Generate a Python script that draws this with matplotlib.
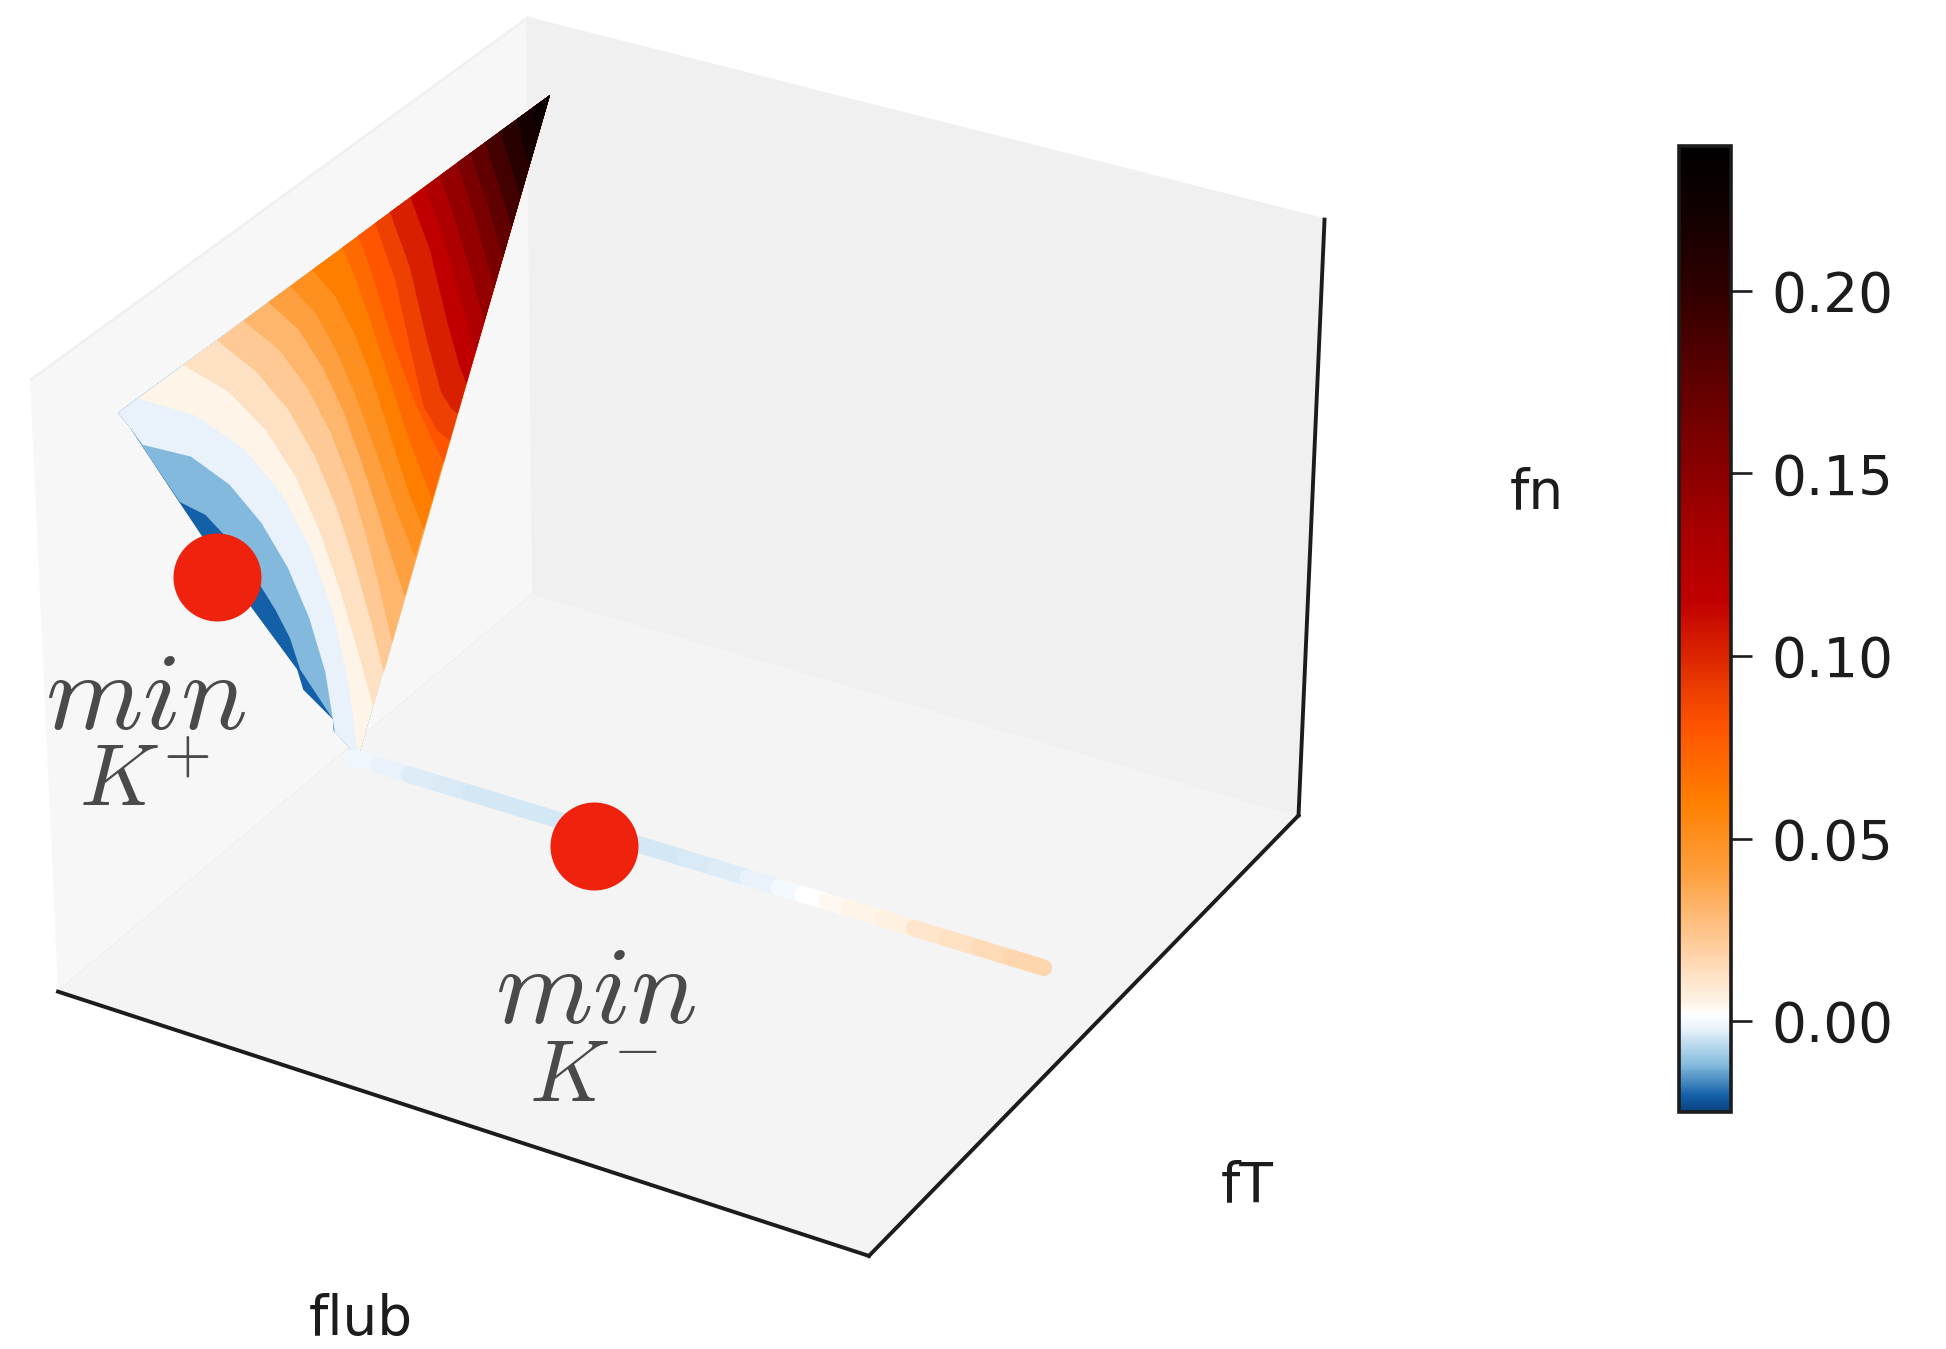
import numpy as np, matplotlib
matplotlib.use('Agg')
import matplotlib.pyplot as plt
from matplotlib.colors import LinearSegmentedColormap, Normalize
from matplotlib.cm import ScalarMappable
from mpl_toolkits.mplot3d.art3d import Poly3DCollection, Line3DCollection

plt.rcParams['mathtext.fontset'] = 'cm'

# ---------- data (fT, fn pairs in axis fractions) ----------
flub_wedge = 0.02
tip = [(1.015, 0.869)]
apex = [(0.579, 0.0)]
left_corner = [(0.128, 0.876), (0.149, 0.840)]
edge_upper_low = [(0.172, 0.793)]
edge_lower = [(0.238, 0.660), (0.274, 0.588), (0.373, 0.395), (0.458, 0.236), (0.469, 0.194), (0.529, 0.101), (0.528, 0.084)]
contour_A = [(0.238, 0.662), (0.286, 0.610), (0.323, 0.551), (0.356, 0.490), (0.388, 0.427), (0.418, 0.364), (0.445, 0.299), (0.464, 0.232)]
contour_B = [(0.172, 0.797), (0.262, 0.721), (0.335, 0.628), (0.395, 0.526), (0.445, 0.418), (0.485, 0.307), (0.515, 0.194), (0.532, 0.077)]
contour_C = [(0.166, 0.875), (0.273, 0.781), (0.363, 0.671), (0.436, 0.550), (0.492, 0.420), (0.534, 0.284), (0.562, 0.146), (0.579, 0.005)]
contour_D = [(0.253, 0.875), (0.339, 0.778), (0.409, 0.671), (0.466, 0.557), (0.511, 0.437), (0.549, 0.314), (0.582, 0.190), (0.613, 0.066)]
contour_E = [(0.319, 0.874), (0.393, 0.778), (0.455, 0.676), (0.505, 0.568), (0.546, 0.456), (0.580, 0.341), (0.610, 0.225), (0.637, 0.109)]
contour_F = [(0.371, 0.874), (0.439, 0.786), (0.494, 0.688), (0.539, 0.585), (0.576, 0.478), (0.606, 0.369), (0.632, 0.259), (0.656, 0.149)]
contour_G = [(0.421, 0.874), (0.479, 0.794), (0.526, 0.702), (0.565, 0.606), (0.597, 0.508), (0.627, 0.409), (0.655, 0.309), (0.685, 0.210)]
contour_H = [(0.465, 0.873), (0.514, 0.799), (0.554, 0.713), (0.588, 0.624), (0.618, 0.534), (0.647, 0.444), (0.676, 0.354), (0.708, 0.264)]
contour_I = [(0.510, 0.873), (0.555, 0.802), (0.591, 0.720), (0.621, 0.637), (0.647, 0.552), (0.672, 0.467), (0.698, 0.382), (0.728, 0.298)]
contour_J = [(0.571, 0.873), (0.598, 0.803), (0.623, 0.725), (0.647, 0.647), (0.671, 0.569), (0.694, 0.492), (0.720, 0.415), (0.747, 0.338)]
contour_K = [(0.604, 0.873), (0.626, 0.809), (0.647, 0.737), (0.668, 0.665), (0.691, 0.594), (0.716, 0.523), (0.744, 0.454), (0.773, 0.386)]
contour_L = [(0.639, 0.873), (0.678, 0.756), (0.706, 0.626), (0.732, 0.510), (0.760, 0.450), (0.787, 0.415)]
contour_M = [(0.670, 0.873), (0.709, 0.758), (0.742, 0.615), (0.770, 0.510), (0.790, 0.470), (0.805, 0.450)]
contour_N = [(0.713, 0.872), (0.752, 0.761), (0.785, 0.623), (0.810, 0.530), (0.825, 0.490)]
contour_O = [(0.744, 0.872), (0.780, 0.766), (0.814, 0.645), (0.845, 0.530)]
contour_P = [(0.776, 0.872), (0.810, 0.765), (0.842, 0.657), (0.865, 0.570)]
contour_Q = [(0.812, 0.872), (0.845, 0.769), (0.888, 0.615)]
contour_R = [(0.840, 0.871), (0.871, 0.780), (0.908, 0.655)]
contour_S = [(0.873, 0.871), (0.897, 0.793), (0.928, 0.695)]
contour_T = [(0.905, 0.871), (0.926, 0.805), (0.948, 0.735)]
contour_U = [(0.942, 0.870), (0.955, 0.816), (0.968, 0.775)]
contour_V = [(0.977, 0.870), (0.986, 0.832), (0.990, 0.820)]
contour_W = [(1.004, 0.869), (1.005, 0.850)]
band_values = [-0.0205, -0.012, -0.002, 0.005, 0.013, 0.022, 0.031, 0.040, 0.050, 0.060, 0.070, 0.080,
               0.090, 0.102, 0.115, 0.130, 0.145, 0.160, 0.175, 0.190, 0.205, 0.220, 0.232, 0.238]

strip_fT = 0.576
strip_fn = 0.0
strip_flub = [0.014, 0.05, 0.09, 0.13, 0.17, 0.21, 0.25, 0.29, 0.33, 0.37, 0.41, 0.45, 0.49, 0.53, 0.57,
              0.60, 0.63, 0.66, 0.70, 0.74, 0.78, 0.82, 0.86, 0.90]
strip_color = [-0.0005, -0.001, -0.002, -0.003, -0.0035, -0.004, -0.004, -0.004, -0.004, -0.004, -0.004, -0.004,
               -0.0035, -0.003, -0.002, 0.0, 0.002, 0.004, 0.005, 0.006, 0.011, 0.013, 0.015, 0.017]

minima_flub = [0.02, 0.349]
minima_fT = [0.304, 0.548]
minima_fn = [0.495, 0.0]

cmap_values = [-0.0249, -0.0205, -0.012, -0.002, 0.002, 0.005, 0.013, 0.022, 0.031, 0.040, 0.050, 0.060, 0.070,
               0.080, 0.090, 0.102, 0.115, 0.130, 0.150, 0.175, 0.200, 0.220, 0.2397]
cmap_colors = ['#08407F', '#1460A8', '#85BBDD', '#EAF3FB', '#FFFFFF', '#FEF3E6', '#FEE0C2', '#FEC995', '#FEB56C',
               '#FEA040', '#FE9020', '#FE7F00', '#FF6A00', '#FF5500', '#EE4000', '#D82000', '#C00000', '#AE0000',
               '#8C0000', '#600000', '#300000', '#140000', '#000000']
cbar_ticks = [0.0, 0.05, 0.10, 0.15, 0.20]
cbar_labels = ['0.00', '0.05', '0.10', '0.15', '0.20']

# ---------- figure ----------
W, H = 1946, 1349
fig = plt.figure(figsize=(W / 100, H / 100), dpi=100)
ax = fig.add_axes([-46.5 / W, (H - 1355.7) / H, 1433.7 / W, 1458.8 / H], projection='3d', computed_zorder=False)
ax.apply_aspect = lambda position=None: None
ax.set_xlim(0, 1); ax.set_ylim(0, 1); ax.set_zlim(0, 1)
ax.view_init(elev=29.3669, azim=-60.0122)
ax.set_proj_type('persp', focal_length=1.0104)
ax.set_box_aspect((1, 0.998, 0.7332))
ax.set_xticks([]); ax.set_yticks([]); ax.set_zticks([])
for a in (ax.xaxis, ax.yaxis, ax.zaxis):
    a.line.set_linewidth(2.8)
    a.line.set_color('#1c1c1c')
    a.set_rotate_label(False)
ax.xaxis.set_pane_color((0.97, 0.97, 0.97, 1.0))
ax.yaxis.set_pane_color((0.94, 0.94, 0.94, 1.0))
ax.zaxis.set_pane_color((0.957, 0.957, 0.957, 1.0))
for a in (ax.xaxis, ax.yaxis, ax.zaxis):
    a.pane.set_edgecolor((0.94, 0.94, 0.94, 1.0))
    a.pane.set_linewidth(2.0)
lab = dict(fontsize=39.5, color='#1c1c1c')
ax.set_xlabel('flub', labelpad=81, **lab)
ax.set_ylabel('fT', labelpad=82, **lab)
ax.set_zlabel('fn', labelpad=80, **lab)

norm = Normalize(-0.0249, 0.2397)
cmap = LinearSegmentedColormap.from_list(
    'fn', [((v + 0.0249) / (0.2397 + 0.0249), c) for v, c in zip(cmap_values, cmap_colors)], N=1024)

layers = [
    tip + left_corner + edge_upper_low + edge_lower + apex,
    tip + left_corner + edge_upper_low + contour_A + edge_lower[-2:] + apex,
    tip + left_corner + contour_B + apex,
    tip + contour_C + apex,
    tip + contour_D, tip + contour_E, tip + contour_F, tip + contour_G, tip + contour_H, tip + contour_I,
    tip + contour_J, tip + contour_K, tip + contour_L, tip + contour_M, tip + contour_N, tip + contour_O,
    tip + contour_P, tip + contour_Q, tip + contour_R, tip + contour_S, tip + contour_T, tip + contour_U,
    tip + contour_V, tip + contour_W,
]
for i, (poly, val) in enumerate(zip(layers, band_values)):
    verts = [[(flub_wedge, y, z) for y, z in poly]]
    pc = Poly3DCollection(verts, facecolors=[cmap(norm(val))], edgecolors='none', linewidths=0)
    pc.set_zorder(5 + i)
    ax.add_collection3d(pc)

for j in range(len(strip_flub) - 1):
    seg = [[(strip_flub[j], strip_fT, strip_fn), (strip_flub[j + 1], strip_fT, strip_fn)]]
    lc = Line3DCollection(seg, colors=[cmap(norm(strip_color[j + 1]))], linewidths=12, capstyle='round')
    lc.set_zorder(40 + j * 0.01)
    ax.add_collection3d(lc)

ax.scatter(minima_flub, minima_fT, minima_fn, c='#EF230D', s=4014, marker='o', linewidths=0, depthshade=False, zorder=50)

def ftext(px, py, s, size):
    fig.text(px / W, 1 - py / H, s, ha='center', va='center', fontsize=size, color='#4a4a4a', zorder=60)
ftext(146, 698, r'$min$', 80)
ftext(144, 782, r'$K^{+}$', 63)
ftext(596, 993, r'$min$', 80)
ftext(593, 1077, r'$K^{-}$', 63)

cax = fig.add_axes([1679 / W, (H - 1112) / H, 52 / W, 966 / H])
cb = fig.colorbar(ScalarMappable(norm=norm, cmap=cmap), cax=cax, ticks=cbar_ticks)
cb.ax.set_yticklabels(cbar_labels)
cb.outline.set_linewidth(2.6)
cb.outline.set_edgecolor('#1c1c1c')
cb.ax.tick_params(length=15, width=1.9, pad=14, labelsize=39.5, color='#1c1c1c', labelcolor='#1c1c1c')

fig.savefig('out.png', dpi=100)
